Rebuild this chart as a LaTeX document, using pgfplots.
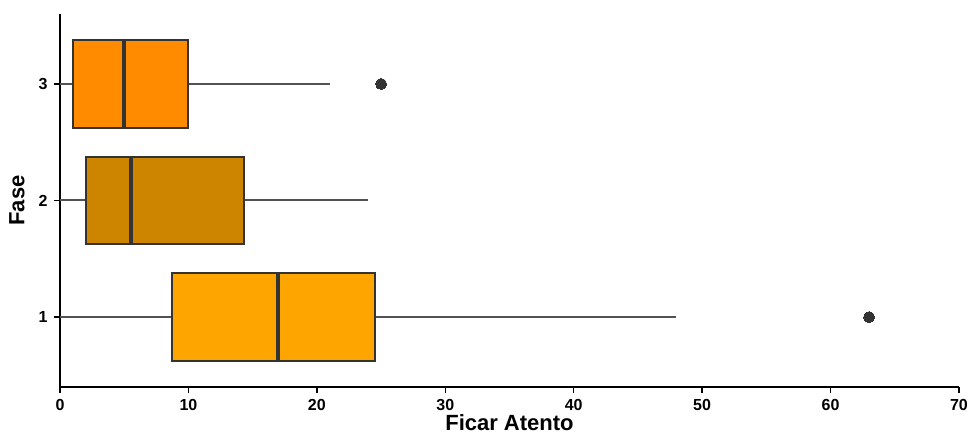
\documentclass[border=0pt]{standalone}
\usepackage{pgfplots}
\pgfplotsset{compat=1.18}
\usepgfplotslibrary{statistics}
\usepackage{fontspec}
\setmainfont{Liberation Sans}
\definecolor{c1}{HTML}{FFA500}
\definecolor{c2}{HTML}{CD8500}
\definecolor{c3}{HTML}{FF8C00}
\definecolor{edge}{HTML}{333333}
\begin{document}
\begin{tikzpicture}[x=1pt,y=1pt]
\path[use as bounding box] (-60,-52) rectangle (911,387);
\begin{axis}[
  at={(0,0)}, anchor=south west,
  scale only axis, width=899pt, height=373pt,
  xmin=0, xmax=70, ymin=0.4, ymax=3.6,
  axis lines=left, axis line style={line width=2pt, -},
  xtick={0,10,...,70}, ytick={1,2,3},
  tick style={line width=1.5pt, black},
  tick align=outside, major tick length=6pt,
  ticklabel style={font=\fontsize{16}{16}\selectfont\bfseries},
  xticklabel style={yshift=-3pt},
  yticklabel style={xshift=-3pt},
  /pgf/number format/assume math mode=true,
  xlabel={\fontsize{22}{22}\selectfont\bfseries Ficar Atento},
  ylabel={\fontsize{22}{22}\selectfont\bfseries Fase},
  xlabel style={yshift=3pt},
  ylabel style={yshift=7pt},
  boxplot/draw direction=x,
  boxplot/whisker extend=0,
  boxplot/box extend=0.75,
  boxplot/every box/.style={draw=edge, line width=2pt},
  boxplot/every whisker/.style={draw=edge!85, line width=2pt},
  boxplot/every median/.style={draw=edge, line width=4pt},
  clip=false,
]
\addplot[boxplot prepared={lower whisker=0, lower quartile=8.75, median=17, upper quartile=24.5, upper whisker=48, draw position=1},
  draw=edge, line width=2pt, fill=c1, mark=*, mark size=5.5pt, mark options={fill=edge, draw=edge, line width=0pt}]
  table[row sep=\\, y index=0]{63\\};
\addplot[boxplot prepared={lower whisker=0, lower quartile=2, median=5.5, upper quartile=14.3, upper whisker=24, draw position=2},
  draw=edge, line width=2pt, fill=c2]
  coordinates {};
\addplot[boxplot prepared={lower whisker=0, lower quartile=1, median=5, upper quartile=10, upper whisker=21, draw position=3},
  draw=edge, line width=2pt, fill=c3, mark=*, mark size=5.5pt, mark options={fill=edge, draw=edge, line width=0pt}]
  table[row sep=\\, y index=0]{25\\};
\end{axis}
\end{tikzpicture}
\end{document}
